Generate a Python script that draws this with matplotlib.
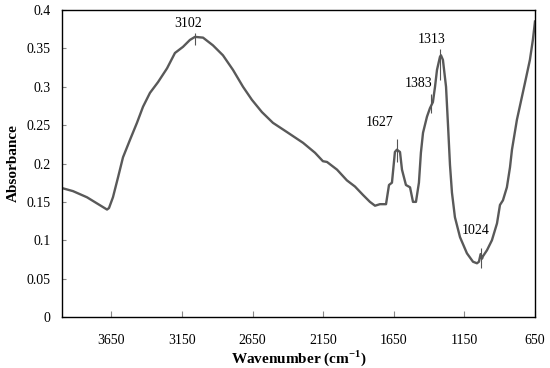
import matplotlib
matplotlib.use("Agg")
import matplotlib.pyplot as plt

plt.rcParams['font.family'] = ['Liberation Serif', 'DejaVu Serif']
plt.rcParams['mathtext.fontset'] = 'custom'
plt.rcParams['mathtext.rm'] = 'Liberation Serif'
plt.rcParams['mathtext.bf'] = 'Liberation Serif:bold'

wavenumber = [4000, 3922, 3823, 3752, 3681, 3667, 3639, 3603, 3568, 3518, 3469, 3426, 3377,
              3320, 3256, 3200, 3143, 3094, 3058, 3001, 2931, 2860, 2789, 2718, 2655, 2584,
              2506, 2407, 2293, 2208, 2152, 2123, 2052, 1982, 1925, 1868, 1819, 1783, 1748,
              1705, 1684, 1663, 1642, 1628, 1606, 1592, 1564, 1535, 1514, 1493, 1472, 1458,
              1443, 1415, 1394, 1373, 1358, 1344, 1323, 1316, 1302, 1280, 1266, 1252, 1238,
              1217, 1181, 1132, 1089, 1061, 1047, 1035, 1025, 1019, 990, 955, 919, 898, 877,
              849, 827, 813, 778, 721, 686, 665, 650]
absorbance = [0.168, 0.164, 0.156, 0.148, 0.140, 0.142, 0.156, 0.182, 0.208, 0.231, 0.253, 0.274, 0.292,
              0.306, 0.324, 0.344, 0.352, 0.361, 0.365, 0.364, 0.354, 0.341, 0.322, 0.300, 0.283, 0.267,
              0.253, 0.241, 0.227, 0.214, 0.203, 0.202, 0.192, 0.178, 0.170, 0.159, 0.150, 0.145, 0.147,
              0.147, 0.172, 0.175, 0.215, 0.218, 0.215, 0.192, 0.172, 0.169, 0.150, 0.150, 0.175, 0.214,
              0.240, 0.261, 0.272, 0.280, 0.300, 0.322, 0.339, 0.341, 0.335, 0.300, 0.250, 0.198, 0.162,
              0.130, 0.104, 0.083, 0.072, 0.070, 0.072, 0.082, 0.076, 0.079, 0.087, 0.100, 0.122, 0.146, 0.152,
              0.169, 0.195, 0.218, 0.257, 0.305, 0.335, 0.361, 0.385]

peak_labels = ['3102', '1627', '1383', '1313', '1024']
peak_mark_wn = [3058, 1630, 1389, 1323, 1035]
peak_mark_lo = [0.354, 0.202, 0.266, 0.309, 0.064]
peak_mark_hi = [0.370, 0.232, 0.291, 0.349, 0.090]
peak_text_x = [3108, 1748, 1472, 1380, 1068]
peak_text_y = [0.382, 0.253, 0.304, 0.361, 0.113]

xticks = [3650, 3150, 2650, 2150, 1650, 1150, 650]
yticks = [0, 0.05, 0.1, 0.15, 0.2, 0.25, 0.3, 0.35, 0.4]
yticklabels = ['0', '0.05', '0.1', '0.15', '0.2', '0.25', '0.3', '0.35', '0.4']

fig = plt.figure(figsize=(5.5, 3.68), dpi=100)
ax = fig.add_axes([0.1127, 0.1386, 0.86, 0.8342])
ax.plot(wavenumber, absorbance, color='#595959', lw=1.7, solid_joinstyle='round')
ax.vlines(peak_mark_wn, peak_mark_lo, peak_mark_hi, color='#555555', lw=0.8)
for t, x, y in zip(peak_labels, peak_text_x, peak_text_y):
    ax.text(x, y, t, ha='center', va='center', fontsize=10)

ax.set_xlim(4000, 650)
ax.set_ylim(0, 0.4)
ax.set_xticks(xticks)
ax.set_xticklabels([str(v) for v in xticks])
ax.set_yticks(yticks)
ax.set_yticklabels(yticklabels)
ax.tick_params(axis='x', direction='in', length=4, labelsize=10, pad=12, color='#888888')
ax.tick_params(axis='y', direction='in', length=3, labelsize=10, pad=8, color='#888888')
for s in ax.spines.values():
    s.set_linewidth(1.0)
ax.set_xlabel(r'Wavenumber (cm$^{\mathbf{-1}}$)', fontsize=11, fontweight='bold', labelpad=1)
ax.set_ylabel('Absorbance', fontsize=11, fontweight='bold', labelpad=5)
fig.savefig('out.png', dpi=100)
